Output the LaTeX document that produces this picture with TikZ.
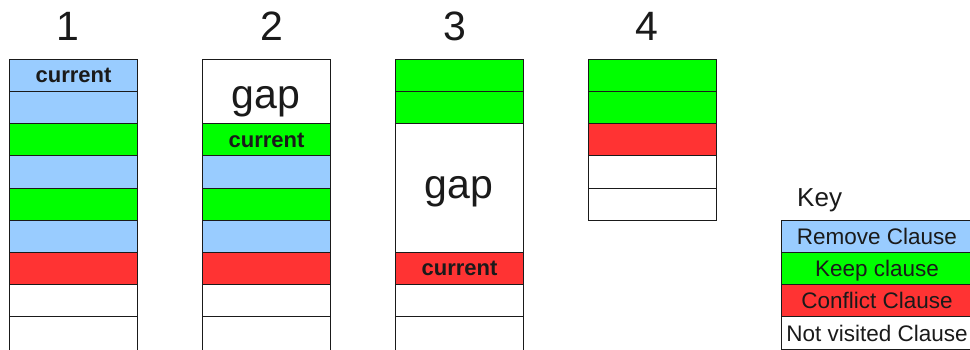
\documentclass[tikz,border=0pt]{standalone}
\usepackage{fontspec}
\setmainfont{Liberation Sans}
\definecolor{removefill}{HTML}{99CCFF}
\definecolor{keepfill}{HTML}{00FF00}
\definecolor{conflictfill}{HTML}{FF3333}
\definecolor{ink}{HTML}{1A1A1A}
\tikzset{
  cell/.style={draw=ink, line width=1pt, minimum width=128pt, minimum height=32.15pt,
               inner sep=0pt, anchor=north west, text=ink},
  removecell/.style={cell, fill=removefill},
  keepcell/.style={cell, fill=keepfill},
  conflictcell/.style={cell, fill=conflictfill},
  freecell/.style={cell, fill=white},
  keycell/.style={cell, minimum width=191pt, font=\fontsize{22.5}{26}\selectfont,
                  text height=16pt, text depth=0pt},
  curtext/.style={text=ink, inner sep=0pt, anchor=base, yshift=-7.4pt,
                  font=\fontsize{22}{26}\selectfont\bfseries},
  gaptext/.style={text=ink, inner sep=0pt, anchor=base, font=\fontsize{41}{48}\selectfont},
  steplabel/.style={text=ink, inner sep=0pt, anchor=base, font=\fontsize{41}{48}\selectfont},
}
\begin{document}
\begin{tikzpicture}[x=1pt, y=-1pt]
  \clip (0,0) rectangle (970,349);
  \fill[white] (0,0) rectangle (970,349);

  % step numbers
  \node[steplabel] (n1) at (68,40) {1};
  \node[steplabel] (n2) at (272,40) {2};
  \node[steplabel] (n3) at (454.5,40) {3};
  \node[steplabel] (n4) at (646.5,40) {4};

  % column 1
  \foreach \s [count=\i] in {removecell,removecell,keepcell,removecell,keepcell,removecell,conflictcell,freecell}
    \node[\s] (a\i) at (9,{59+32.15*(\i-1)}) {};
  \node[freecell, minimum height=50pt] (a9) at (9,{59+32.15*8}) {};
  \node[curtext] (acur) at (a1.center) {current};

  % column 2
  \node[freecell, minimum height=64.3pt] (bgap) at (202,59) {};
  \node[gaptext] (bgaptext) at (266,108.3) {gap};
  \foreach \s [count=\i from 3] in {keepcell,removecell,keepcell,removecell,conflictcell,freecell}
    \node[\s] (b\i) at (202,{59+32.15*(\i-1)}) {};
  \node[freecell, minimum height=50pt] (b9) at (202,{59+32.15*8}) {};
  \node[curtext] (bcur) at (b3.center) {current};

  % column 3
  \node[keepcell] (c1) at (395,59) {};
  \node[keepcell] (c2) at (395,{59+32.15}) {};
  \node[freecell, minimum height=128.6pt] (cgap) at (395,{59+32.15*2}) {};
  \node[gaptext] (cgaptext) at (459,198.3) {gap};
  \node[conflictcell] (c7) at (395,{59+32.15*6}) {};
  \node[freecell] (c8) at (395,{59+32.15*7}) {};
  \node[freecell, minimum height=50pt] (c9) at (395,{59+32.15*8}) {};
  \node[curtext] (ccur) at (c7.center) {current};

  % column 4
  \foreach \s [count=\i] in {keepcell,keepcell,conflictcell,freecell,freecell}
    \node[\s] (d\i) at (588,{59+32.15*(\i-1)}) {};

  % key
  \node[text=ink, inner sep=0pt, anchor=base west, font=\fontsize{26}{30}\selectfont] (keytitle) at (797,206) {Key};
  \node[keycell, fill=removefill] (k1) at (781,220) {Remove Clause};
  \node[keycell, fill=keepfill] (k2) at (781,{220+32.15}) {Keep clause};
  \node[keycell, fill=conflictfill] (k3) at (781,{220+32.15*2}) {Conflict Clause};
  \node[keycell, fill=white] (k4) at (781,{220+32.15*3}) {Not visited Clause};
\end{tikzpicture}
\end{document}
